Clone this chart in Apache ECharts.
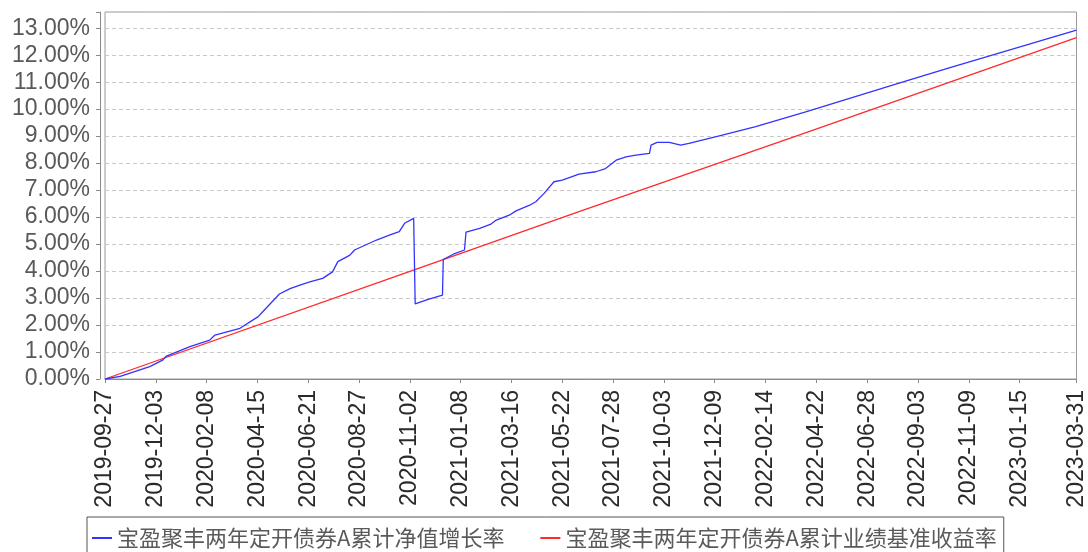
<!DOCTYPE html>
<html>
<head>
<meta charset="utf-8">
<script src="https://cdn.jsdelivr.net/npm/echarts@6/dist/echarts.min.js"></script>
<style>
html,body{margin:0;padding:0;background:#fff;}
#chart{width:1088px;height:552px;}
</style>
</head>
<body>
<div id="chart"></div>
<script>
const startDate = '2019-09-27';
const endDate = '2023-03-31';

const tickLabels = ['2019-09-27','2019-12-03','2020-02-08','2020-04-15','2020-06-21','2020-08-27',
  '2020-11-02','2021-01-08','2021-03-16','2021-05-22','2021-07-28','2021-10-03','2021-12-09',
  '2022-02-14','2022-04-22','2022-06-28','2022-09-03','2022-11-09','2023-01-15','2023-03-31'];

const seriesNames = ['宝盈聚丰两年定开债券A累计净值增长率','宝盈聚丰两年定开债券A累计业绩基准收益率'];

const navDates = ['2019-09-27','2019-10-17','2019-11-25','2019-12-12','2019-12-17','2020-01-17','2020-02-12',
  '2020-02-19','2020-03-23','2020-04-16','2020-04-22','2020-05-14','2020-05-28','2020-06-10','2020-06-23',
  '2020-07-10','2020-07-23','2020-07-30','2020-08-15','2020-08-21','2020-09-19','2020-10-06','2020-10-19',
  '2020-10-26','2020-11-07','2020-11-09','2020-11-26','2020-12-15','2020-12-16','2020-12-31','2021-01-13',
  '2021-01-15','2021-02-02','2021-02-17','2021-02-24','2021-03-13','2021-03-22','2021-04-09','2021-04-17',
  '2021-04-28','2021-05-11','2021-05-22','2021-06-13','2021-07-05','2021-07-18','2021-08-01','2021-08-14',
  '2021-08-27','2021-09-14','2021-09-16','2021-09-24','2021-10-10','2021-10-25','2021-11-05','2021-12-19',
  '2022-02-01','2022-04-08','2022-08-09','2022-10-13','2023-03-31'];
const navValues = [0,0.10,0.46,0.70,0.85,1.20,1.44,
  1.63,1.88,2.31,2.49,3.15,3.35,3.48,3.60,
  3.73,3.97,4.35,4.59,4.78,5.15,5.33,5.46,
  5.77,5.95,2.78,2.95,3.11,4.43,4.65,4.78,
  5.44,5.58,5.74,5.89,6.07,6.23,6.44,6.57,
  6.88,7.31,7.37,7.59,7.68,7.80,8.11,8.23,
  8.30,8.36,8.67,8.77,8.77,8.67,8.73,9.04,
  9.35,9.90,10.96,11.52,12.93];

const benchDates = ['2019-09-27','2020-11-03','2021-06-13','2022-03-30','2023-03-31'];
const benchValues = [0,4.00,6.20,9.04,12.65];

function buildCategories(a, b) {
  const out = [];
  const d = new Date(a + 'T00:00:00Z');
  const e = new Date(b + 'T00:00:00Z');
  while (d <= e) {
    out.push(d.toISOString().slice(0, 10));
    d.setUTCDate(d.getUTCDate() + 1);
  }
  return out;
}
const categories = buildCategories(startDate, endDate);
const tickSet = new Set(tickLabels);
const showTick = (i, v) => tickSet.has(v);

const chart = echarts.init(document.getElementById('chart'), null, {renderer: 'canvas'});
chart.setOption({
  animation: false,
  backgroundColor: '#ffffff',
  grid: {left: 105, right: 10, top: 12, bottom: 173, show: true, borderColor: '#9a9a9a', borderWidth: 1, backgroundColor: 'transparent'},
  legend: {
    left: 87, top: 517,
    padding: [10, 7, 10, 5],
    itemGap: 36, itemWidth: 20, itemHeight: 2,
    borderColor: '#555', borderWidth: 1,
    icon: 'rect',
    textStyle: {fontFamily: 'Noto Sans CJK SC', fontSize: 22, color: '#5a5a5a'},
    data: seriesNames
  },
  xAxis: {
    type: 'category',
    data: categories,
    boundaryGap: false,
    offset: 6,
    axisLine: {lineStyle: {color: '#8a8a8a', width: 1}},
    axisTick: {show: true, interval: showTick, length: 4, lineStyle: {color: '#8a8a8a'}},
    axisLabel: {interval: showTick, rotate: 90, margin: 5, fontFamily: 'Liberation Sans', fontSize: 23, color: '#2a2a2a'},
    splitLine: {show: false}
  },
  yAxis: {
    type: 'value',
    min: 0, max: 13.6, interval: 1,
    offset: 5,
    axisLine: {show: true, lineStyle: {color: '#8a8a8a', width: 1}},
    axisTick: {show: true, length: 4, lineStyle: {color: '#8a8a8a'}},
    axisLabel: {margin: 10, fontFamily: 'Liberation Sans', fontSize: 23, color: '#595959',
      formatter: v => (v > 13.01 ? '' : v.toFixed(2) + '%')},
    splitLine: {show: true, lineStyle: {color: '#c8c8c8', type: [4, 3], width: 1}}
  },
  series: [
    {name: seriesNames[0], type: 'line', showSymbol: false, symbol: 'none',
      data: navDates.map((d, i) => [d, navValues[i]]),
      lineStyle: {color: '#3333ff', width: 1.3}, itemStyle: {color: '#3333ff'}, z: 3},
    {name: seriesNames[1], type: 'line', showSymbol: false, symbol: 'none',
      data: benchDates.map((d, i) => [d, benchValues[i]]),
      lineStyle: {color: '#ff2a2a', width: 1.3}, itemStyle: {color: '#ff2a2a'}, z: 2}
  ]
});
</script>
</body>
</html>
